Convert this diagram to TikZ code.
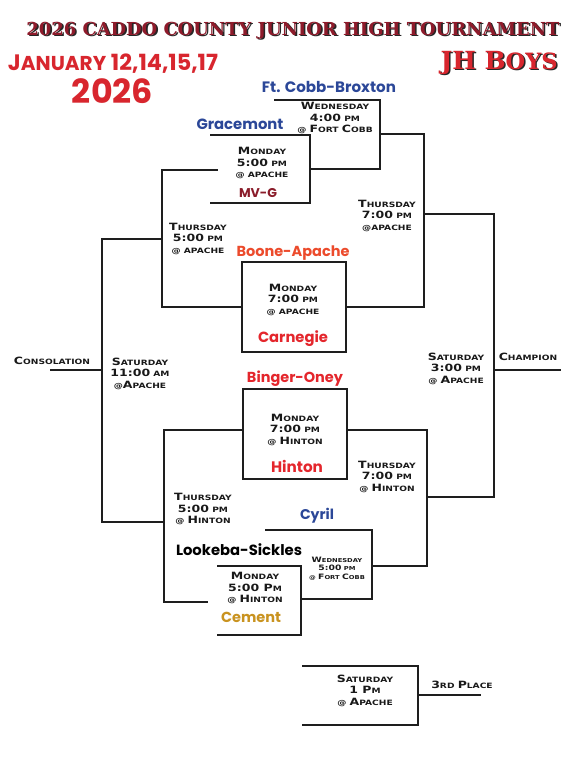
\documentclass[tikz,border=0pt]{standalone}
\usepackage{fontspec}
\usepackage{graphicx}
\setmainfont{DejaVu Sans}
\newfontfamily\cgfont{DejaVu Sans}[FakeStretch=1.25]
\newfontfamily\teamfont{Poppins}
\newfontfamily\titlefont{DejaVu Serif}
\definecolor{titlered}{HTML}{8E1B2B}
\definecolor{datered}{HTML}{D8262E}
\definecolor{teamblue}{HTML}{2B4798}
\definecolor{mvgred}{HTML}{8A1C2A}
\definecolor{boonered}{HTML}{EC4B2C}
\definecolor{brightred}{HTML}{E4262C}
\definecolor{cementgold}{HTML}{C99320}
\definecolor{linegray}{HTML}{1E1E1E}
\newcommand\bl[1]{{\fontsize{10}{11.5}\selectfont #1}}
\newcommand\fitw[2]{\resizebox{#1pt}{!}{#2}}
% text with a dark drop shadow, in one box
\newcommand\shadowed[3]{\rlap{\raisebox{-#3}[0pt][0pt]{\kern#3\textcolor{black!85}{#1}}}\textcolor{#2}{#1}}
\tikzset{
  bline/.style={draw=linegray, line width=1.3pt, line cap=rect},
  lbl/.style={font=\cgfont\bfseries\fontsize{7.3}{11.5}\selectfont, align=center, inner sep=0pt, text=black!90},
  team/.style={font=\teamfont\bfseries, inner sep=0pt, anchor=base},
}
\begin{document}
\begin{tikzpicture}[x=1pt,y=-1pt]
\useasboundingbox (0,0) rectangle (586,767);
\fill[white] (0,0) rectangle (586,767);

% ---- headings
\node[inner sep=0pt] (title) at (293,30.5) {\fitw{533}{\titlefont\bfseries\shadowed{2026 CADDO COUNTY JUNIOR HIGH TOURNAMENT}{titlered}{0.9pt}}};
\node[inner sep=0pt] (boys) at (499,63) {\fitw{117}{\titlefont\bfseries\shadowed{JH B{\small OYS}}{datered}{0.6pt}}};
\node[inner sep=0pt, text=datered] (dates) at (113,64) {\fitw{210}{\teamfont\bfseries J{\small ANUARY} 12,14,15,17}};
\node[inner sep=0pt, text=datered] (year) at (112.5,91) {\fitw{81}{\teamfont\bfseries 2026}};

% ---- team names
\node[team, text=teamblue] (ftcobb) at (329,93) {\fitw{134}{Ft. Cobb-Broxton}};
\node[team, text=teamblue] (gracemont) at (240,130) {\fitw{87}{Gracemont}};
\node[team, text=mvgred] (mvg) at (258,197.5) {\fitw{38}{MV-G}};
\node[team, text=boonered] (boone) at (293,256) {\fitw{113}{Boone-Apache}};
\node[team, text=brightred] (carnegie) at (293,342) {\fitw{70}{Carnegie}};
\node[team, text=brightred] (binger) at (295,382) {\fitw{96}{Binger-Oney}};
\node[team, text=brightred] (hinton) at (297,472) {\fitw{52}{Hinton}};
\node[team, text=teamblue] (cyril) at (317,519.5) {\fitw{34}{Cyril}};
\node[team, text=black] (lookeba) at (239,555) {\fitw{126}{Lookeba-Sickles}};
\node[team, text=cementgold] (cement) at (251,622) {\fitw{60}{Cement}};

% ---- game labels
\node[lbl] (wed4) at (335,118) {\bl{W}EDNESDAY\\\bl{4:00} PM\\@ \bl{F}ORT \bl{C}OBB};
\node[lbl] (mon5a) at (262,163) {\bl{M}ONDAY\\\bl{5:00} PM\\@ APACHE};
\node[lbl] (thu5a) at (198,238.5) {\bl{T}HURSDAY\\\bl{5:00} PM\\@ APACHE};
\node[lbl] (mon7a) at (293,299.5) {\bl{M}ONDAY\\\bl{7:00} PM\\@ APACHE};
\node[lbl] (thu7a) at (387,215.5) {\bl{T}HURSDAY\\\bl{7:00} PM\\@APACHE};
\node[lbl] (sat3) at (456,368.5) {\bl{S}ATURDAY\\\bl{3:00} PM\\@ \bl{A}PACHE};
\node[lbl] (champ) at (528,357) {\bl{C}HAMPION};
\node[lbl] (consol) at (52,361) {\bl{C}ONSOLATION};
\node[lbl] (sat11) at (140,373.5) {\bl{S}ATURDAY\\\bl{11:00} AM\\@\bl{A}PACHE};
\node[lbl] (mon7h) at (295,429.5) {\bl{M}ONDAY\\\bl{7:00} PM\\@ \bl{H}INTON};
\node[lbl] (thu7h) at (387,476.5) {\bl{T}HURSDAY\\\bl{7:00} PM\\@ \bl{H}INTON};
\node[lbl] (thu5h) at (203,509) {\bl{T}HURSDAY\\\bl{5:00} PM\\@ \bl{H}INTON};
\node[lbl, scale=0.74] (wed5) at (337,568.5) {\bl{W}EDNESDAY\\\bl{5:00} PM\\@ \bl{F}ORT \bl{C}OBB};
\node[lbl] (mon5h) at (255,588) {\bl{M}ONDAY\\\bl{5:00 P}M\\@ \bl{H}INTON};
\node[lbl] (sat1) at (365,690.5) {\bl{S}ATURDAY\\\bl{1 P}M\\@ \bl{A}PACHE};
\node[lbl] (third) at (462,685) {\bl{3}RD \bl{P}LACE};

% ---- bracket points
\coordinate (w4a) at (275,100);  \coordinate (w4b) at (380,169);  \coordinate (w4c) at (310,169);
\coordinate (w4o) at (380,134);
\coordinate (m5a) at (211,135);  \coordinate (m5b) at (310,203);  \coordinate (m5c) at (211,203);
\coordinate (l1a) at (217,170);  \coordinate (l1b) at (162,307);
\coordinate (b7a) at (242,262);  \coordinate (b7b) at (346,352);
\coordinate (t7a) at (424,134);  \coordinate (t7b) at (424,307);  \coordinate (t7c) at (346,307);
\coordinate (t7o) at (424,214);
\coordinate (fa) at (494,214);   \coordinate (fb) at (494,497);   \coordinate (fc) at (427,497);
\coordinate (cha) at (494,370);  \coordinate (chb) at (560,370);
\coordinate (ca) at (162,239);   \coordinate (cb) at (102,522);   \coordinate (cc) at (164,522);
\coordinate (coa) at (102,370);  \coordinate (cob) at (51,370);
\coordinate (h7a) at (243,389);  \coordinate (h7b) at (347,479);
\coordinate (l2a) at (243,430);  \coordinate (l2b) at (164,602); \coordinate (l2c) at (207,602);
\coordinate (th7a) at (347,430); \coordinate (th7b) at (427,566); \coordinate (th7c) at (372,566);
\coordinate (w5a) at (266,530);  \coordinate (w5b) at (372,599);  \coordinate (w5c) at (301,599);
\coordinate (m5ha) at (218,566); \coordinate (m5hb) at (301,635); \coordinate (m5hc) at (218,635);
\coordinate (sa) at (303,666);   \coordinate (sb) at (418,725);   \coordinate (sc) at (303,725);
\coordinate (so) at (418,695);   \coordinate (sp) at (480,695);

% ---- bracket lines
\draw[bline] (w4a) -| (w4b) -- (w4c);
\draw[bline] (w4o) -- (t7a);
\draw[bline] (m5a) -| (m5b) -- (m5c);
\draw[bline] (l1a) -| (l1b) -- (b7a |- l1b);
\draw[bline] (b7a) rectangle (b7b);
\draw[bline] (t7a) -- (t7b) -- (t7c);
\draw[bline] (t7o) -- (fa) -- (fb) -- (fc);
\draw[bline] (cha) -- (chb);
\draw[bline] (ca) -| (cb) -- (cc);
\draw[bline] (coa) -- (cob);
\draw[bline] (h7a) rectangle (h7b);
\draw[bline] (l2a) -| (l2b) -- (l2c);
\draw[bline] (th7a) -| (th7b) -- (th7c);
\draw[bline] (w5a) -| (w5b) -- (w5c);
\draw[bline] (m5ha) -| (m5hb) -- (m5hc);
\draw[bline] (sa) -| (sb) -- (sc);
\draw[bline] (so) -- (sp);
\end{tikzpicture}
\end{document}
